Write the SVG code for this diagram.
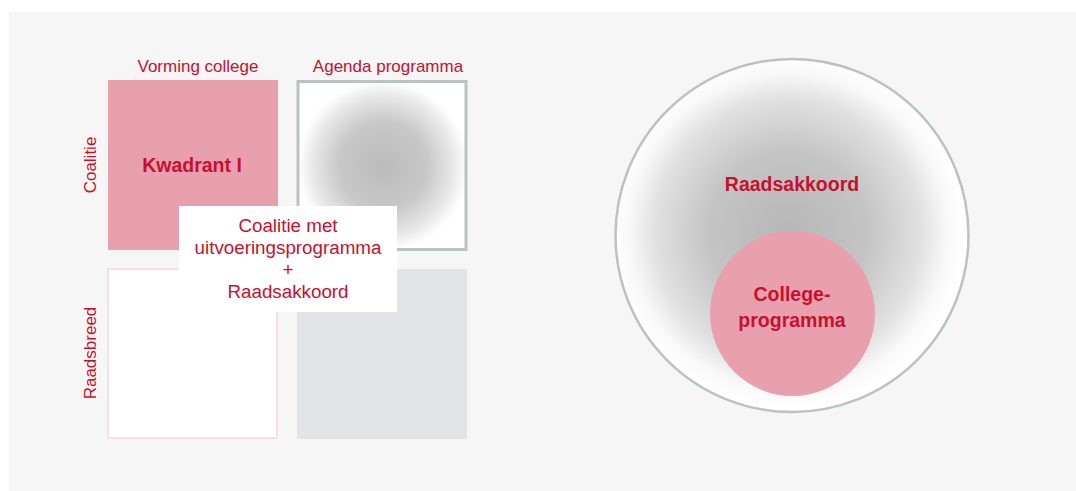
<svg xmlns="http://www.w3.org/2000/svg" width="1076" height="491" viewBox="0 0 1076 491">
  <style>
    .lbl { font-family: "Liberation Sans", Arial, sans-serif; fill: #c8102e; text-anchor: middle; }
    .hdr { font-size: 17px; }
    .box { font-size: 18.8px; }
    .bold { font-weight: bold; font-size: 19.5px; }
  </style>
  <defs>
    <radialGradient id="sqGrad" gradientUnits="userSpaceOnUse" cx="383" cy="166" r="88">
      <stop offset="0" stop-color="#bbbbbb"/>
      <stop offset="0.5" stop-color="#c8c8c8"/>
      <stop offset="0.8" stop-color="#e8e8e8"/>
      <stop offset="0.95" stop-color="#fdfdfd"/>
      <stop offset="1" stop-color="#ffffff"/>
    </radialGradient>
    <radialGradient id="circGrad" gradientUnits="userSpaceOnUse" cx="788" cy="232" r="176">
      <stop offset="0" stop-color="#b7b7b7"/>
      <stop offset="0.45" stop-color="#c4c4c4"/>
      <stop offset="0.75" stop-color="#e0e0e0"/>
      <stop offset="0.9" stop-color="#f8f8f8"/>
      <stop offset="1" stop-color="#ffffff"/>
    </radialGradient>
  </defs>
  <rect x="0" y="0" width="1076" height="491" fill="#ffffff"/>
  <rect x="9" y="12" width="1067" height="479" fill="#f6f6f6"/>

  <g id="headers">
    <text class="lbl hdr" x="198" y="72">Vorming college</text>
    <text class="lbl hdr" x="388" y="72">Agenda programma</text>
    <text class="lbl hdr" transform="translate(96,165) rotate(-90)">Coalitie</text>
    <text class="lbl hdr" transform="translate(96,353) rotate(-90)">Raadsbreed</text>
  </g>

  <g id="kwadrant1">
    <rect x="108" y="80" width="170" height="170" fill="#e89fae"/>
    <text class="lbl bold" x="192" y="172">Kwadrant I</text>
  </g>
  <g id="kwadrant2">
    <rect x="298" y="81.5" width="168" height="168" fill="url(#sqGrad)" stroke="#b9c3c1" stroke-width="3"/>
  </g>
  <g id="kwadrant3">
    <rect x="108" y="269" width="169" height="169" fill="#ffffff" stroke="#f8dde3" stroke-width="2"/>
  </g>
  <g id="kwadrant4">
    <rect x="297" y="269" width="170" height="170" fill="#e3e4e6"/>
  </g>

  <g id="labelbox">
    <rect x="179" y="206" width="218" height="106" fill="#ffffff"/>
    <text class="lbl box" x="288" y="232">Coalitie met</text>
    <text class="lbl box" x="288" y="253.5">uitvoeringsprogramma</text>
    <text class="lbl box" x="288" y="276">+</text>
    <text class="lbl box" x="288" y="298">Raadsakkoord</text>
  </g>

  <g id="raadsakkoord">
    <circle cx="792" cy="235.5" r="176.5" fill="url(#circGrad)" stroke="#b9c3c1" stroke-width="2.5"/>
    <text class="lbl bold" x="792" y="191">Raadsakkoord</text>
  </g>
  <g id="collegeprogramma">
    <circle cx="792.5" cy="313.5" r="82.5" fill="#e89fae"/>
    <text class="lbl bold" x="792" y="301">College-</text>
    <text class="lbl bold" x="792" y="327">programma</text>
  </g>
  <g id="connectors"/>
</svg>
